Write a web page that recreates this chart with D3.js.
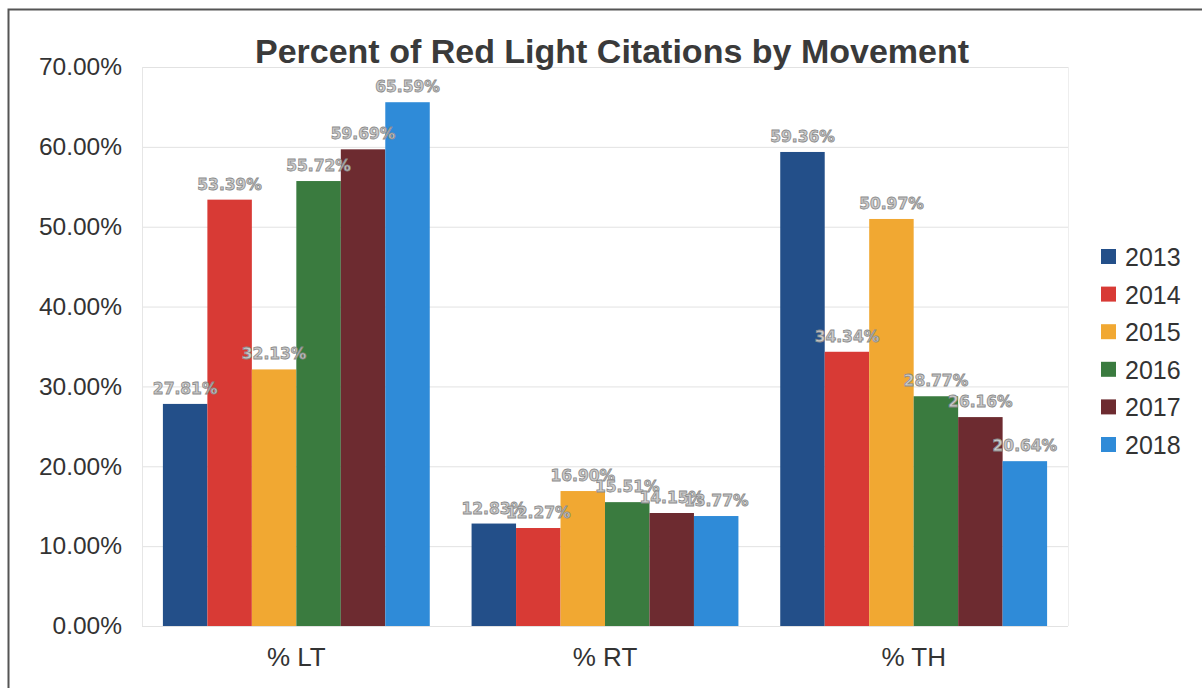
<!DOCTYPE html>
<html>
<head>
<meta charset="utf-8">
<script src="https://cdn.jsdelivr.net/npm/d3@7"></script>
<style>
  html, body { margin: 0; padding: 0; background: #fff; }
  svg { display: block; }
</style>
</head>
<body>
<svg id="chart" width="1202" height="688"></svg>
<script>
const categories = ["% LT", "% RT", "% TH"];
const years = ["2013", "2014", "2015", "2016", "2017", "2018"];
const values2013 = [27.81, 12.83, 59.36];
const values2014 = [53.39, 12.27, 34.34];
const values2015 = [32.13, 16.90, 50.97];
const values2016 = [55.72, 15.51, 28.77];
const values2017 = [59.69, 14.15, 26.16];
const values2018 = [65.59, 13.77, 20.64];
const yTicks = [0, 10, 20, 30, 40, 50, 60, 70];
const colors = ["#234f89", "#d83a35", "#f1a832", "#3a7b3f", "#6d2b30", "#2f8bd8"];
const title = "Percent of Red Light Citations by Movement";

const series = [values2013, values2014, values2015, values2016, values2017, values2018];

(function () {
const svg = d3.select("#chart");
const font = "'Liberation Sans', Arial, sans-serif";

// Outer frame
svg.append("path")
  .attr("d", "M8.5,688 L8.5,9.5 L1202,9.5")
  .attr("fill", "none").attr("stroke", "#555").attr("stroke-width", 2);

const pLeft = 142, pRight = 1068, pTop = 67, pBottom = 626;

const y = d3.scaleLinear().domain([0, 70]).range([pBottom, pTop]);
const x0 = d3.scaleBand().domain(categories).range([pLeft, pRight]).padding(0);
const x1 = d3.scaleBand().domain(years).range([0, x0.bandwidth()]).paddingInner(0).paddingOuter(0.47);

// Gridlines
svg.append("g").selectAll("line").data(yTicks).join("line")
  .attr("x1", pLeft).attr("x2", pRight)
  .attr("y1", d => y(d) + 0.5).attr("y2", d => y(d) + 0.5)
  .attr("stroke", "#e2e2e2").attr("stroke-width", 1);

svg.append("line").attr("x1", pLeft + 0.5).attr("x2", pLeft + 0.5)
  .attr("y1", pTop).attr("y2", pBottom).attr("stroke", "#e6e6e6");
svg.append("line").attr("x1", pRight + 0.5).attr("x2", pRight + 0.5)
  .attr("y1", pTop).attr("y2", pBottom).attr("stroke", "#eeeeee");

// Y axis labels
const yAxis = d3.axisLeft(y).tickValues(yTicks).tickFormat(d => d.toFixed(2) + "%").tickSize(0).tickPadding(20);
const ya = svg.append("g").attr("transform", `translate(${pLeft},0)`).call(yAxis);
ya.select(".domain").remove();
ya.selectAll("text").attr("font-family", font).attr("font-size", 24.5).attr("fill", "#333");

// X axis labels
const xAxis = d3.axisBottom(x0).tickSize(0).tickPadding(22);
const xa = svg.append("g").attr("transform", `translate(0,${pBottom})`).call(xAxis);
xa.select(".domain").remove();
xa.selectAll("text").attr("font-family", font).attr("font-size", 26).attr("fill", "#333");

// Bars
years.forEach((yr, i) => {
  svg.append("g").selectAll("rect").data(series[i]).join("rect")
    .attr("x", (d, j) => x0(categories[j]) + x1(yr))
    .attr("y", d => y(d))
    .attr("width", x1.bandwidth())
    .attr("height", d => pBottom - y(d))
    .attr("fill", colors[i]);
});

// Labels
years.forEach((yr, i) => {
  svg.append("g").selectAll("text").data(series[i]).join("text")
    .attr("x", (d, j) => x0(categories[j]) + x1(yr) + x1.bandwidth() / 2)
    .attr("y", d => y(d) - 10)
    .attr("text-anchor", "middle")
    .attr("font-family", "'DejaVu Sans', sans-serif")
    .attr("font-size", 15.5)
    .attr("font-weight", "bold")
    .attr("fill", "#cacaca")
    .attr("stroke", "#8a8a8a")
    .attr("stroke-width", 0.8)
    .text(d => d.toFixed(2) + "%");
});

// Title
svg.append("text")
  .attr("x", 612).attr("y", 63)
  .attr("text-anchor", "middle")
  .attr("font-family", font).attr("font-size", 34).attr("font-weight", "bold")
  .attr("fill", "#3a3a3a")
  .text(title);

// Legend
const lg = svg.append("g").selectAll("g").data(years).join("g")
  .attr("transform", (d, i) => `translate(1101, ${257 + i * 37.6})`);
lg.append("rect").attr("x", 0).attr("y", -8).attr("width", 15).attr("height", 15)
  .attr("fill", (d, i) => colors[i]);
lg.append("text").attr("x", 24).attr("y", 9)
  .attr("font-family", font).attr("font-size", 25).attr("fill", "#333")
  .text(d => d);
})();
</script>
</body>
</html>
